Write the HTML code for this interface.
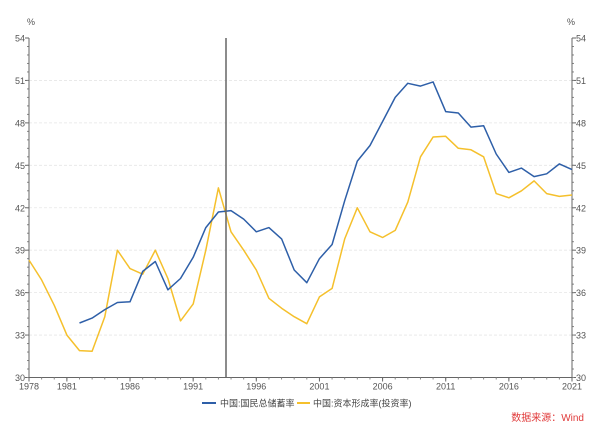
<!DOCTYPE html>
<html><head><meta charset="utf-8"><style>
html,body{margin:0;padding:0;background:#fff;}
svg{display:block;font-family:"Liberation Sans","Noto Sans CJK SC",sans-serif;}
</style></head><body>
<svg id="chart" width="600" height="432" viewBox="0 0 600 432">
<g id="grid"></g>
<g id="axes"></g>
<g id="series"></g>
<line x1="226" y1="38" x2="226" y2="377.5" stroke="#666" stroke-width="1.5"/>
<text x="27" y="25" font-size="9" fill="#555">%</text>
<text x="567" y="25" font-size="9" fill="#555">%</text>
<g>
<g>
<line x1="202" y1="403" x2="216" y2="403" stroke="#2e5fa8" stroke-width="2"/>
<text x="220" y="406.5" font-size="9" fill="#444">中国:国民总储蓄率</text></g>
<g>
<line x1="297" y1="403" x2="310" y2="403" stroke="#f5c02c" stroke-width="2"/>
<text x="313" y="406.5" font-size="9" fill="#444">中国:资本形成率(投资率)</text></g>
</g>
<text x="584" y="421" font-size="10" fill="#e03a3a" text-anchor="end">数据来源：Wind</text>
</svg>
<script>
const years=[1978,1979,1980,1981,1982,1983,1984,1985,1986,1987,1988,1989,1990,1991,1992,1993,1994,1995,1996,1997,1998,1999,2000,2001,2002,2003,2004,2005,2006,2007,2008,2009,2010,2011,2012,2013,2014,2015,2016,2017,2018,2019,2020,2021];
const savingsRate=[null,null,null,null,33.85,34.2,34.8,35.3,35.35,37.5,38.2,36.2,37.0,38.5,40.6,41.7,41.8,41.2,40.3,40.6,39.8,37.6,36.7,38.4,39.4,42.5,45.3,46.4,48.1,49.8,50.8,50.6,50.9,48.8,48.7,47.7,47.8,45.8,44.5,44.8,44.2,44.4,45.1,44.7];
const investmentRate=[38.3,36.9,35.1,33.0,31.9,31.85,34.3,39.0,37.7,37.3,39.0,37.0,34.0,35.2,39.0,43.4,40.3,39.0,37.6,35.6,34.9,34.3,33.8,35.7,36.3,39.8,42.0,40.3,39.9,40.4,42.4,45.6,47.0,47.05,46.2,46.1,45.6,43.0,42.7,43.2,43.9,43.0,42.8,42.9];
const yTicks=[30,33,36,39,42,45,48,51,54];
const xTickYears=[1978,1981,1986,1991,1996,2001,2006,2011,2016,2021];
const NS='http://www.w3.org/2000/svg';
const L=29,R=572,T=38,B=377.5;
function xs(y){return L+(y-1978)/(2021-1978)*(R-L);}
function ys(v){return B-(v-30)/(54-30)*(B-T);}
function mk(tag,attrs,parent){const e=document.createElementNS(NS,tag);for(const k in attrs)e.setAttribute(k,attrs[k]);parent.appendChild(e);return e;}
const grid=document.getElementById('grid'),axes=document.getElementById('axes'),series=document.getElementById('series');
yTicks.forEach(v=>{
 const y=ys(v);
 if(v>30&&v<54){const g=mk('line',{x1:L,x2:R,y1:y,y2:y,stroke:'#e6e6e6','stroke-width':0.8,'stroke-dasharray':'3,2'},grid);
 
 }
 const t1=mk('text',{x:L-4,y:y+3.5,'font-size':9,fill:'#555','text-anchor':'end'},axes);t1.textContent=v;
 
 
 const t2=mk('text',{x:R+4,y:y+3.5,'font-size':9,fill:'#555'},axes);t2.textContent=v;
 
 
 mk('line',{x1:L-4,x2:L,y1:y,y2:y,stroke:'#666'},axes);
 mk('line',{x1:R,x2:R+4,y1:y,y2:y,stroke:'#666'},axes);
});
for(let v=30;v<54;v+=0.6){const y=ys(v);mk('line',{x1:L-2,x2:L,y1:y,y2:y,stroke:'#888'},axes);mk('line',{x1:R,x2:R+2,y1:y,y2:y,stroke:'#888'},axes);}
const la=mk('line',{x1:L,x2:L,y1:T,y2:B,stroke:'#666'},axes);


const ra=mk('line',{x1:R,x2:R,y1:T,y2:B,stroke:'#666'},axes);


const xa=mk('line',{x1:L,x2:R,y1:B,y2:B,stroke:'#666'},axes);


years.forEach(yr=>{mk('line',{x1:xs(yr),x2:xs(yr),y1:B,y2:B+2,stroke:'#888'},axes);});
xTickYears.forEach(yr=>{
 mk('line',{x1:xs(yr),x2:xs(yr),y1:B,y2:B+4,stroke:'#666'},axes);
 const t=mk('text',{x:xs(yr),y:B+12,'font-size':9,fill:'#555','text-anchor':'middle'},axes);t.textContent=yr;
 
 
});
function line(vals,color,name){
 let d='';vals.forEach((v,i)=>{if(v==null)return;d+=(d?'L':'M')+xs(years[i]).toFixed(1)+','+ys(v).toFixed(1);});
 const p=mk('path',{d:d,fill:'none',stroke:color,'stroke-width':1.5,'stroke-linejoin':'round'},series);
 
 
}
line(investmentRate,'#f5c02c','investment-rate-line');
line(savingsRate,'#2e5fa8','savings-rate-line');
</script>
</body></html>
